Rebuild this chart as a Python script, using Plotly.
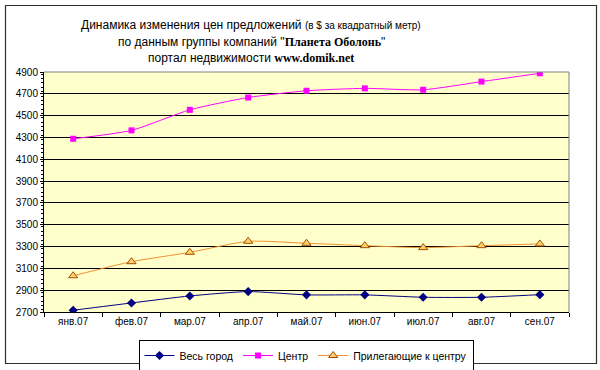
import plotly.graph_objects as go

months = ["янв.07", "фев.07", "мар.07", "апр.07", "май.07", "июн.07", "июл.07", "авг.07", "сен.07"]
whole_city = [2716, 2783, 2847, 2887, 2857, 2857, 2835, 2835, 2859]
center = [4288, 4365, 4553, 4666, 4728, 4750, 4737, 4812, 4888]
near_center = [3032, 3161, 3247, 3348, 3330, 3308, 3290, 3308, 3324]
y_ticks = list(range(2700, 4901, 200))

W, H = 600, 370
L, R, T, B = 44, 569, 72, 312
pw, ph = R - L, B - T

def px(x):
    return (x - L) / pw

def py(y):
    return (B - y) / ph

fig = go.Figure()
fig.add_trace(go.Scatter(
    x=months, y=whole_city, name="Весь город", mode="lines+markers",
    line=dict(color="#000080", width=1, shape="spline", smoothing=0.6),
    marker=dict(symbol="diamond", size=7, color="#000080")))
fig.add_trace(go.Scatter(
    x=months, y=center, name="Центр", mode="lines+markers",
    line=dict(color="#FF00FF", width=1, shape="spline", smoothing=0.6),
    marker=dict(symbol="square", size=6, color="#FF00FF")))
fig.add_trace(go.Scatter(
    x=months, y=near_center, name="Прилегающие к центру", mode="lines+markers",
    line=dict(color="#F09030", width=1, shape="spline", smoothing=0.6),
    marker=dict(symbol="triangle-up", size=8, color="#FFD070",
                line=dict(color="#A05000", width=1))))

font = "Liberation Sans, Arial, sans-serif"
serif = "Liberation Serif"

fig.update_layout(
    width=W, height=H,
    margin=dict(l=L, r=W - R, t=T, b=H - B, autoexpand=False),
    paper_bgcolor="white", plot_bgcolor="#FFFFCC",
    font=dict(family=font, size=11, color="black"),
    showlegend=True,
    legend=dict(orientation="h", x=px(306), xanchor="center", y=py(340), yanchor="top",
                bordercolor="black", borderwidth=1, bgcolor="white",
                font=dict(size=10.5, family=font), itemwidth=30,
                tracegroupgap=0),
    xaxis=dict(type="category", showgrid=False, showline=True, linecolor="black", linewidth=1,
               ticks="outside", ticklen=4, tickcolor="black", tickson="boundaries", automargin=False,
               tickfont=dict(size=10, family=font), range=[-0.5, 8.5], fixedrange=True),
    yaxis=dict(range=[2700, 4900], tickvals=y_ticks, showgrid=True, gridcolor="black", gridwidth=1,
               showline=True, linecolor="black", linewidth=1, ticks="outside", ticklen=3, automargin=False,
               tickcolor="black", tickfont=dict(size=10, family=font), zeroline=False,
               minor=dict(dtick=40, ticks="outside", ticklen=2, tickcolor="black", showgrid=False)),
)

# outer chart border
fig.add_shape(type="rect", xref="paper", yref="paper", x0=px(5.5), x1=px(596.5), y0=py(5.5), y1=py(363.5),
              line=dict(color="#303030", width=1.2), fillcolor="rgba(0,0,0,0)", layer="above")
# plot area border (gray) on top/right
fig.add_shape(type="line", xref="paper", yref="paper", x0=0, x1=1, y0=1, y1=1,
              line=dict(color="#808080", width=1), layer="above")
fig.add_shape(type="line", xref="paper", yref="paper", x0=1, x1=1, y0=0, y1=1,
              line=dict(color="#808080", width=1), layer="above")

titles = [
    ("Динамика изменения цен предложений <span style='font-size:10px'>(в $ за квадратный метр)</span>", 25),
    ("по данным группы компаний \"<b><span style='font-family:" + serif + "'>Планета Оболонь</span></b>\"", 42),
    ("портал недвижимости <b><span style='font-family:" + serif + "'>www.domik.net</span></b>", 58),
]
for text, yy in titles:
    fig.add_annotation(text=text, xref="paper", yref="paper", x=px(251), y=py(yy),
                       xanchor="center", yanchor="middle", showarrow=False,
                       font=dict(size=12, family=font, color="black"))

fig.write_html(
    "out.html", config={"displayModeBar": False},
    post_script=("document.body.style.margin='0';"
                 "document.body.style.overflow='hidden';"
                 "document.documentElement.style.overflow='hidden';"))
